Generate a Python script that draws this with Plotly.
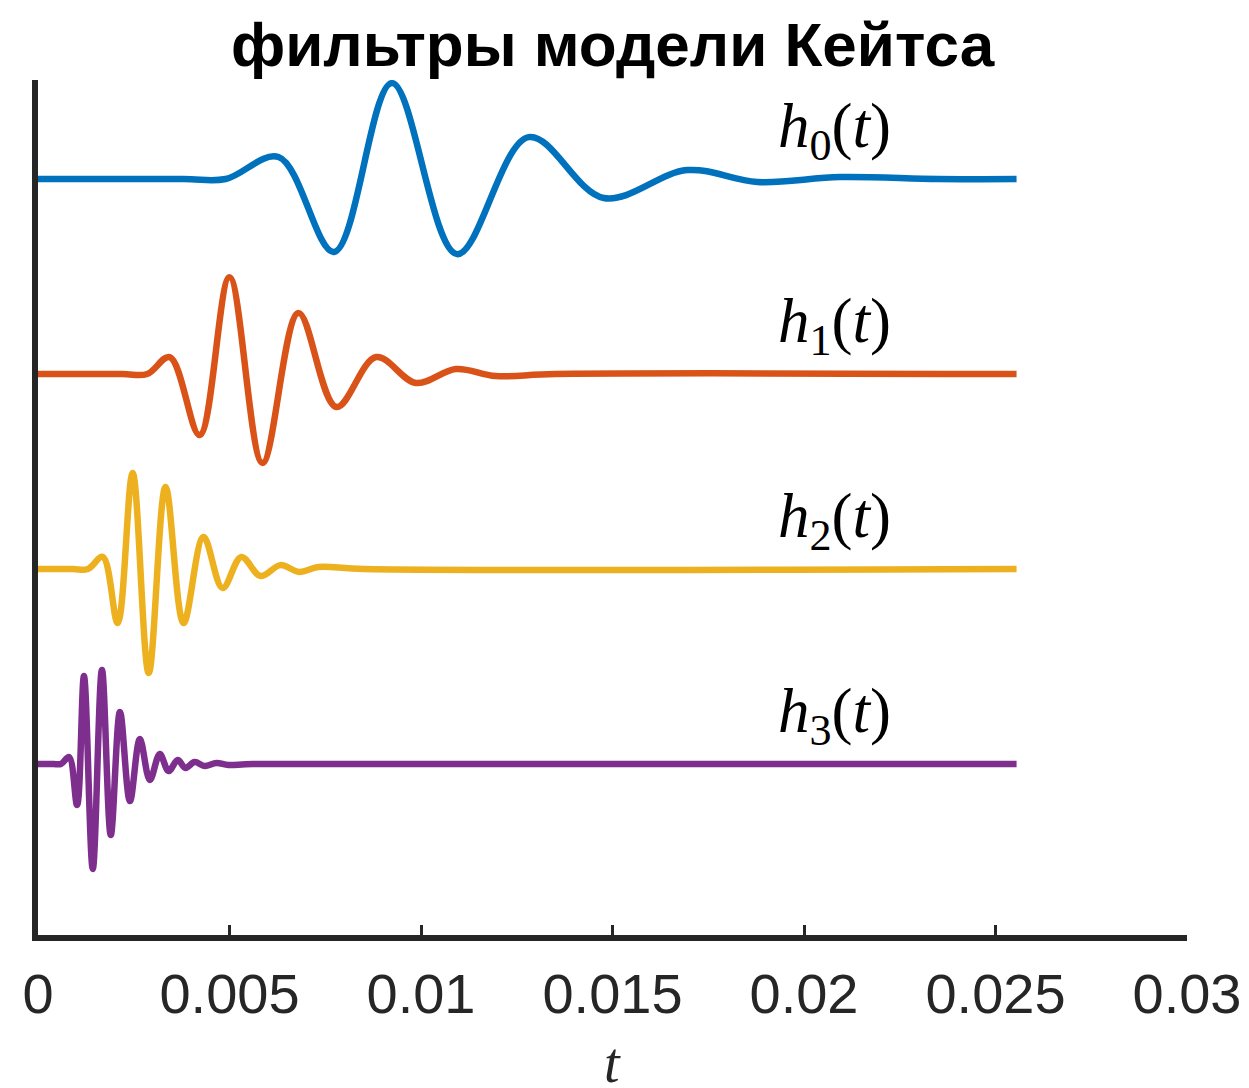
import plotly.graph_objects as go

# ---- data: turning points of each filter (time in s,
#      amplitude relative to the filter's own baseline) ----
t_h0 = [0, 0.0038, 0.00490, 0.00628, 0.00773, 0.00924, 0.01094, 0.01281, 0.01477,
        0.01695, 0.01878, 0.02094, 0.0235, 0.02555]
y_h0 = [0, 0, 0, 0.113, -0.374, 0.492, -0.385, 0.215, -0.097,
        0.046, -0.015, 0.01, 0, 0]

t_h1 = [0, 0.0022, 0.00285, 0.00344, 0.00422, 0.00500, 0.00586, 0.00680, 0.00779,
        0.00883, 0.00987, 0.01091, 0.01195, 0.0135, 0.02555]
y_h1 = [0, 0, 0, 0.087, -0.313, 0.497, -0.456, 0.313, -0.169,
        0.087, -0.046, 0.026, -0.01, 0, 0]

t_h2 = [0, 0.0009, 0.00130, 0.00169, 0.00208, 0.00247, 0.00289, 0.00333, 0.00380,
        0.00432, 0.00482, 0.00531, 0.00581, 0.00633, 0.00682, 0.00732, 0.0085, 0.02555]
y_h2 = [0, 0, 0, 0.062, -0.277, 0.492, -0.533, 0.421, -0.277,
        0.164, -0.097, 0.062, -0.036, 0.02, -0.015, 0.01, 0, 0]

t_h3 = [0, 0.0004, 0.00060, 0.00081, 0.00102, 0.00120, 0.00143, 0.00167, 0.00190,
        0.00214, 0.00240, 0.00266, 0.00292, 0.00318, 0.00341, 0.00365, 0.00385,
        0.00409, 0.00435, 0.00466, 0.00497, 0.0056, 0.02555]
y_h3 = [0, 0, 0, 0.036, -0.21, 0.451, -0.538, 0.482, -0.364,
        0.267, -0.19, 0.128, -0.082, 0.051, -0.036, 0.02, -0.02,
        0.01, -0.01, 0.005, -0.005, 0, 0]

offsets = [0, -1, -2, -3]
labels = ["<i>h</i><sub>0</sub>(<i>t</i>)", "<i>h</i><sub>1</sub>(<i>t</i>)",
          "<i>h</i><sub>2</sub>(<i>t</i>)", "<i>h</i><sub>3</sub>(<i>t</i>)"]
colors = ["#0072BD", "#D95319", "#EDB120", "#7E2F8E"]
x_ticks = [0, 0.005, 0.01, 0.015, 0.02, 0.025, 0.03]
x_ticklabels = ["0", "0.005", "0.01", "0.015", "0.02", "0.025", "0.03"]
title_text = "фильтры модели Кейтса"
label_t = 0.0208
label_dy = 0.25

series = [(t_h0, y_h0), (t_h1, y_h1), (t_h2, y_h2), (t_h3, y_h3)]

fig = go.Figure()
for (tt, yy), off, col in zip(series, offsets, colors):
    fig.add_trace(go.Scatter(
        x=tt, y=[v + off for v in yy], mode="lines",
        line=dict(color=col, width=6.5, shape="spline", smoothing=1.0),
        showlegend=False, hoverinfo="skip"))

for off, lab in zip(offsets, labels):
    fig.add_annotation(x=label_t, y=off + label_dy, xref="x", yref="y", text=lab,
                       showarrow=False, xanchor="center", yanchor="middle",
                       font=dict(family="Liberation Serif", size=63, color="#000000"))

fig.add_annotation(x=0.5, xref="paper", y=1.041, yref="paper", yanchor="middle",
                   text=f"<b>{title_text}</b>", showarrow=False,
                   font=dict(family="Liberation Sans", size=62, color="#000000"))
fig.add_annotation(x=0.5, xref="paper", y=-0.150, yref="paper", yanchor="middle",
                   text="<i>t</i>", showarrow=False,
                   font=dict(family="Liberation Serif", size=56, color="#262626"))

fig.update_layout(
    width=1241, height=1080,
    margin=dict(l=30, r=62, t=72, b=153, pad=0, autoexpand=False),
    plot_bgcolor="white", paper_bgcolor="white",
    xaxis=dict(range=[0, 0.03], tickvals=x_ticks, ticktext=x_ticklabels, automargin=False,
               ticklabeloverflow="allow",
               showgrid=False, zeroline=False, showline=True, linecolor="#262626",
               linewidth=6, ticks="inside", ticklen=10, tickwidth=3, tickcolor="#262626",
               ticklabelstandoff=5,
               tickfont=dict(family="Liberation Sans", size=56, color="#262626")),
    yaxis=dict(range=[-3.877, 0.508], showgrid=False, zeroline=False, showline=True,
               linecolor="#262626", linewidth=6, ticks="", showticklabels=False),
)

fig.write_html("out.html")
